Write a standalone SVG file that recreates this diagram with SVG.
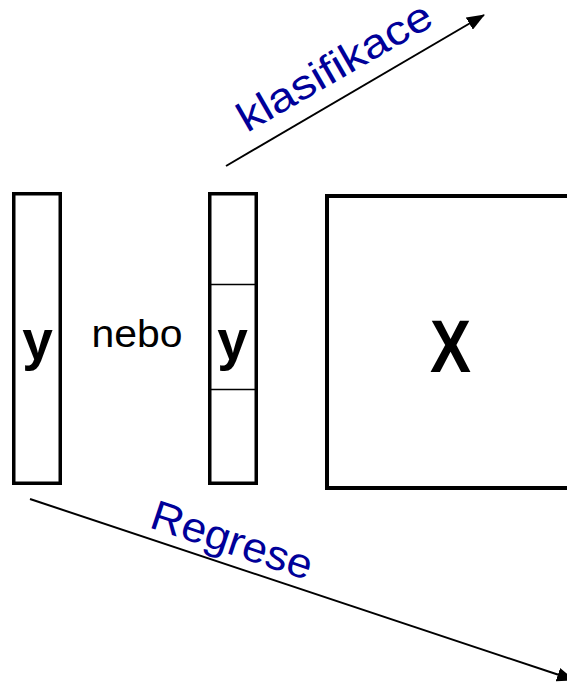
<svg xmlns="http://www.w3.org/2000/svg" width="567" height="685" viewBox="0 0 567 685">
<style>
.box{fill:#fff;stroke:#000;stroke-width:3.5}
.div{stroke:#000;stroke-width:1.5}
.arr{stroke:#000;stroke-width:2;fill:none}
.lbl{font-family:"Liberation Sans",Arial,sans-serif;fill:#000099}
.var{font-family:"Liberation Sans",Arial,sans-serif;font-weight:bold;fill:#000;text-anchor:middle}
</style>
<defs>
<marker id="ah2" viewBox="0 0 18 14" refX="17" refY="7" markerWidth="18" markerHeight="14" markerUnits="userSpaceOnUse" orient="auto">
<path d="M0,0 L18,7 L0,14 Z" fill="#000"/>
</marker>
</defs>
<rect width="567" height="685" fill="#fff"/>
<g id="connectors">
<line class="arr" x1="226" y1="166" x2="484" y2="15" marker-end="url(#ah2)"/>
<line class="arr" x1="30" y1="499" x2="574" y2="680" marker-end="url(#ah2)"/>
</g>
<g id="node-y1">
<rect class="box" x="13.75" y="193.75" width="46.5" height="289.5"/>
<text class="var" x="37.5" y="358.5" font-size="55">y</text>
</g>
<g id="node-nebo">
<text x="137" y="347" font-family="Liberation Sans,Arial,sans-serif" font-size="39" text-anchor="middle" textLength="91" lengthAdjust="spacingAndGlyphs">nebo</text>
</g>
<g id="node-y2">
<rect class="box" x="209.75" y="193.75" width="46.5" height="289.5"/>
<line class="div" x1="211" y1="284.5" x2="255" y2="284.5"/>
<line class="div" x1="211" y1="389.5" x2="255" y2="389.5"/>
<text class="var" x="232.5" y="358.5" font-size="55">y</text>
</g>
<g id="node-X">
<rect x="327" y="196" width="260" height="292" fill="#fff" stroke="#000" stroke-width="4"/>
<text class="var" x="450.5" y="372" font-size="74" textLength="41" lengthAdjust="spacingAndGlyphs">X</text>
</g>
<g id="label-klasifikace">
<text class="lbl" transform="translate(247,133) rotate(-30)" font-size="41" textLength="218" lengthAdjust="spacingAndGlyphs">klasifikace</text>
</g>
<g id="label-regrese">
<text class="lbl" transform="translate(148,527) rotate(18.5)" font-size="42" textLength="168" lengthAdjust="spacingAndGlyphs">Regrese</text>
</g>
</svg>
